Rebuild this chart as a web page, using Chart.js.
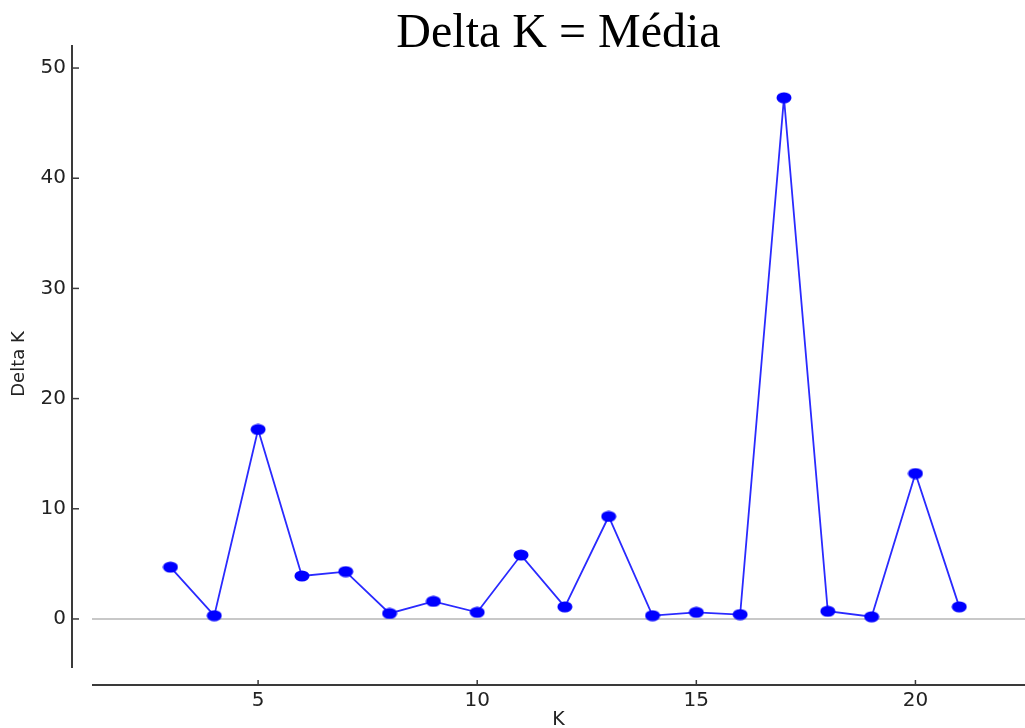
<!DOCTYPE html>
<html>
<head>
<meta charset="utf-8">
<title>Delta K = Média</title>
<script src="https://cdn.jsdelivr.net/npm/chart.js@4/dist/chart.umd.min.js"></script>
<style>
  html, body { margin: 0; padding: 0; background: #fff; }
  #wrap { width: 1025px; height: 728px; }
</style>
</head>
<body>
<div id="wrap"><canvas id="chart" width="1025" height="728"></canvas></div>
<script>
// valores
const ks = [3, 4, 5, 6, 7, 8, 9, 10, 11, 12, 13, 14, 15, 16, 17, 18, 19, 20, 21];
const deltaK = [4.7, 0.3, 17.2, 3.9, 4.3, 0.5, 1.6, 0.6, 5.8, 1.1, 9.3, 0.3, 0.6, 0.4, 47.3, 0.7, 0.2, 13.2, 1.1];
const xTicks = [5, 10, 15, 20];
const yTicks = [0, 10, 20, 30, 40, 50];

// limites dos eixos (estilo matplotlib, eixos deslocados)
const xMin = 1.21, xMax = 22.5;
const yMin = -4.45, yMax = 50.73, yAxisTop = 52.1;

const axisColor = "#3a3a3a";
const lineColor = "#2a2aff";

// marcador levemente achatado, como no original
function makeMarker() {
    const c = document.createElement("canvas");
    c.width = 16; c.height = 12;
    const g = c.getContext("2d");
    g.fillStyle = "#0000ff";
    g.beginPath();
    g.ellipse(8, 6, 7.5, 5.5, 0, 0, Math.PI * 2);
    g.fill();
    return c;
}

// eixos deslocados + linha do zero
const offsetAxes = {
    id: "offsetAxes",
    beforeDatasetsDraw(chart) {
        const { ctx, scales: { x, y } } = chart;
        const y0 = y.getPixelForValue(0);
        ctx.save();
        ctx.strokeStyle = "#c8c8c8";
        ctx.lineWidth = 2;
        ctx.beginPath();
        ctx.moveTo(x.getPixelForValue(xMin), y0);
        ctx.lineTo(chart.width, y0);
        ctx.stroke();
        ctx.restore();
    },
    afterDraw(chart) {
        const { ctx, chartArea, scales: { x, y } } = chart;
        const ax = chartArea.left - 20;
        const ay = chartArea.bottom + 17;
        ctx.save();
        ctx.strokeStyle = axisColor;
        ctx.lineWidth = 2;
        ctx.beginPath();
        ctx.moveTo(ax, y.getPixelForValue(yAxisTop));
        ctx.lineTo(ax, y.getPixelForValue(yMin));
        ctx.stroke();
        ctx.beginPath();
        ctx.moveTo(x.getPixelForValue(xMin), ay);
        ctx.lineTo(chart.width, ay);
        ctx.stroke();
        ctx.lineWidth = 1.5;
        yTicks.forEach(v => {
            const py = y.getPixelForValue(v);
            ctx.beginPath();
            ctx.moveTo(ax, py);
            ctx.lineTo(ax + 7, py);
            ctx.stroke();
        });
        xTicks.forEach(v => {
            const px = x.getPixelForValue(v);
            ctx.beginPath();
            ctx.moveTo(px, ay);
            ctx.lineTo(px, ay - 5);
            ctx.stroke();
        });
        ctx.restore();
    }
};

const ctx = document.getElementById("chart").getContext("2d");

new Chart(ctx, {
    type: "line",
    data: {
        datasets: [{
            label: "Delta K",
            data: ks.map((k, i) => ({ x: k, y: deltaK[i] })),
            borderColor: lineColor,
            borderWidth: 1.8,
            pointStyle: makeMarker(),
            pointRadius: 6,
            pointBackgroundColor: "#0000ff",
            pointBorderColor: "#0000ff",
            tension: 0,
            fill: false
        }]
    },
    options: {
        responsive: false,
        animation: false,
        layout: { padding: 0, autoPadding: false },
        plugins: {
            legend: { display: false },
            tooltip: { enabled: false },
            title: {
                display: true,
                text: "Delta K = Média",
                fullSize: false,
                color: "#000",
                font: { family: "'Liberation Serif', 'Times New Roman', serif", size: 48, weight: "normal", lineHeight: 1.0 },
                padding: { top: 10, bottom: 2 }
            }
        },
        scales: {
            x: {
                type: "linear",
                min: xMin,
                max: xMax,
                afterBuildTicks: s => { s.ticks = xTicks.map(v => ({ value: v })); },
                afterFit: s => { s.height = 60; },
                grid: { display: false, drawTicks: false },
                border: { display: false },
                ticks: {
                    color: "#222",
                    padding: 21,
                    font: { family: "'DejaVu Sans', sans-serif", size: 20 }
                },
                title: {
                    display: true,
                    text: "K",
                    color: "#222",
                    font: { family: "'DejaVu Sans', sans-serif", size: 19, lineHeight: 0.8 },
                    padding: { top: 0, bottom: 0 }
                }
            },
            y: {
                min: yMin,
                max: yMax,
                afterBuildTicks: s => { s.ticks = yTicks.map(v => ({ value: v })); },
                afterFit: s => { s.width = 92; },
                grid: { display: false, drawTicks: false },
                border: { display: false },
                ticks: {
                    color: "#222",
                    padding: 26,
                    font: { family: "'DejaVu Sans', sans-serif", size: 20 }
                },
                title: {
                    display: true,
                    text: "Delta K",
                    color: "#222",
                    font: { family: "'DejaVu Sans', sans-serif", size: 18, lineHeight: 1.2 },
                    padding: { top: 9, bottom: 0 }
                }
            }
        }
    },
    plugins: [offsetAxes]
});
</script>
</body>
</html>
